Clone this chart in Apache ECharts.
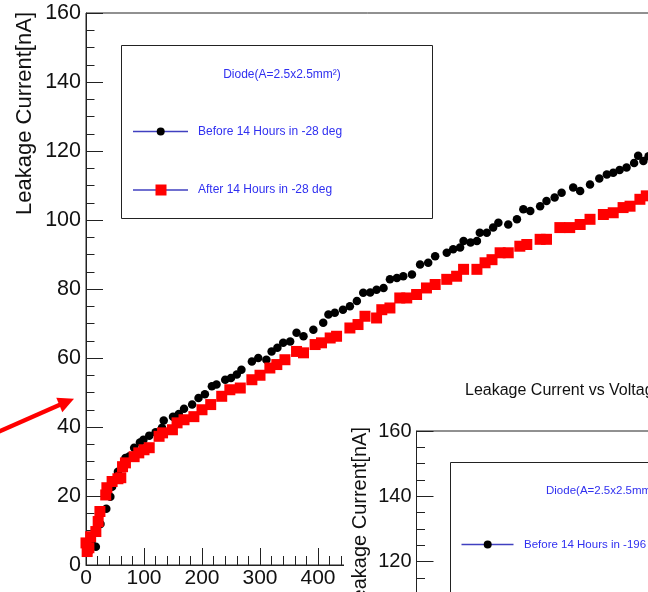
<!DOCTYPE html>
<html>
<head>
<meta charset="utf-8">
<script src="https://cdn.jsdelivr.net/npm/echarts@6/dist/echarts.min.js"></script>
<style>html,body{margin:0;padding:0;background:#fff}#c{width:648px;height:592px}</style>
</head>
<body>
<div id="c"></div>
<script>
// Before 14 Hours in -28 deg (black circles)
const beforeV = [5,10,17,25,35,42,45,55,68,75,83,93,99,109,120,131,134,150,160,169,183,194,205,217,225,240,250,260,268,286,297,311,320,330,340,352,363,375,392,409,418,429,443,455,467,478,490,501,513,524,536,547,562,576,590,602,622,633,645,651,663,674,679,691,702,711,728,743,754,766,783,794,808,820,840,852,869,885,898,909,920,932,945,952,961,970];
const beforeI = [4,6,5.3,11.9,16.3,19.8,22.7,27,31,31.5,34,35.5,36.3,37.5,38.5,39.8,41.9,43,43.8,45.3,46.5,48.4,49.5,51.8,52.3,53.7,54.2,55.2,56.6,59,60,59.5,61.9,63,64.4,64.8,67.3,66.3,68.2,70.2,72.6,73.1,74,75,76.5,78.9,79,79.8,80.3,82.8,83.2,83.7,84.2,87.1,87.6,89.5,90.5,91.5,92,93.9,93.5,93.9,96.3,96.3,97.8,99.2,98.7,100.2,103.1,102.6,104,105.5,106.5,107.9,109.4,108.4,110.3,112,113.2,113.7,114.5,115.2,116.5,118.6,117.1,118.5];
// After 14 Hours in -28 deg (red squares)
const afterV = [0,2,5,8,17,21,24,34,36,45,55,60,63,68,83,91,100,109,126,132,149,157,169,186,200,215,234,248,266,286,300,317,329,343,363,375,395,406,421,432,455,469,481,501,510,524,541,553,570,587,602,622,639,651,674,688,700,714,728,748,760,783,794,817,834,852,869,892,909,926,938,955,966];
const afterI = [6.4,3.9,5,8.2,9.7,12.6,15.5,20.3,22.4,24.2,25,25.3,28.5,29.6,31.4,32.5,33.4,34,37.3,38.3,39.2,41.2,42.1,43,45,46.5,48.9,50.8,51.3,53.7,55,57.1,58.1,59.5,61.9,61.5,63.9,64.4,65.8,66.3,68.7,69.7,72.1,71.6,74,74.5,77.4,77.4,78.4,80.3,81.3,82.8,83.7,85.7,85.7,87.6,88.5,90.5,90.5,92.4,92.9,94.4,94.4,97.8,97.8,98.7,100.2,101.6,102.1,103.6,104,106,107];

const yTitle = 'Leakage Current[nA]';
const insetTitle = 'Leakage Current vs Voltage';
const legendTitle = 'Diode(A=2.5x2.5mm\u00B2)';
const beforeName = 'Before 14 Hours in -28 deg';
const afterName = 'After 14 Hours in -28 deg';
const insetBeforeName = 'Before 14 Hours in -196 deg';

const FF = '"Liberation Sans", Arial, sans-serif';
const AX = '#222';
const BLUE = '#3030f0';
const LEGLINE = '#4040c0';

const chart = echarts.init(document.getElementById('c'), null, {renderer: 'canvas'});

const axisCommon = {
  axisLine: {lineStyle: {color: AX, width: 1}},
  axisTick: {inside: true, length: 17, lineStyle: {color: AX}},
  splitLine: {show: false}
};

const option = {
  animation: false,
  backgroundColor: '#fff',
  grid: [
    {left: 86, top: 13, width: 580, height: 552, show: true, borderColor: AX, borderWidth: 1, backgroundColor: 'transparent', z: 0, containLabel: false, outerBoundsMode: 'none'},
    {left: 416.5, top: 431, width: 400, height: 196, show: true, borderColor: AX, borderWidth: 1, backgroundColor: 'transparent', z: 10, containLabel: false, outerBoundsMode: 'none'}
  ],
  xAxis: [
    Object.assign({}, axisCommon, {
      gridIndex: 0, type: 'value', min: 0, max: 1000, interval: 100,
      minorTick: {show: true, splitNumber: 5, length: 9, lineStyle: {color: AX}},
      axisLabel: {fontSize: 21, color: '#111', margin: 3, fontFamily: FF}
    }),
    {gridIndex: 1, type: 'value', min: 0, max: 1000, show: false}
  ],
  yAxis: [
    Object.assign({}, axisCommon, {
      gridIndex: 0, type: 'value', min: 0, max: 160, interval: 20,
      minorTick: {show: true, splitNumber: 4, length: 8.5, lineStyle: {color: AX}},
      axisLabel: {fontSize: 21.5, color: '#111', margin: 5, fontFamily: FF}
    }),
    Object.assign({}, axisCommon, {
      gridIndex: 1, type: 'value', min: 100, max: 160, interval: 20, z: 10,
      minorTick: {show: true, splitNumber: 4, length: 8.5, lineStyle: {color: AX}},
      axisLabel: {fontSize: 20, color: '#111', margin: 5, fontFamily: FF}
    })
  ],
  series: [
    {
      name: beforeName, type: 'scatter', xAxisIndex: 0, yAxisIndex: 0, clip: false,
      symbol: 'circle', symbolSize: 8.5, itemStyle: {color: '#000', opacity: 1},
      data: beforeV.map((v, i) => [v, beforeI[i]])
    },
    {
      name: afterName, type: 'scatter', xAxisIndex: 0, yAxisIndex: 0, clip: false,
      symbol: 'rect', symbolSize: 11, itemStyle: {color: '#ff0000', opacity: 1},
      data: afterV.map((v, i) => [v, afterI[i]])
    }
  ],
  graphic: [
    // main y-axis title
    {type: 'text', x: 25, y: 12, rotation: Math.PI / 2, z: 3,
     style: {text: yTitle, font: '22px ' + FF, fill: '#111', textAlign: 'right', textVerticalAlign: 'middle'}},
    // main legend box
    {type: 'rect', shape: {x: 121.5, y: 45.5, width: 311, height: 173}, style: {fill: '#fff', stroke: AX, lineWidth: 1}, z: 3},
    {type: 'text', x: 282, y: 75, z: 4,
     style: {text: legendTitle, font: '12px ' + FF, fill: BLUE, textAlign: 'center', textVerticalAlign: 'middle'}},
    {type: 'line', shape: {x1: 133, y1: 131.5, x2: 188, y2: 131.5}, style: {stroke: LEGLINE, lineWidth: 1.5}, z: 4},
    {type: 'circle', shape: {cx: 160.7, cy: 131.5, r: 4}, style: {fill: '#000'}, z: 5},
    {type: 'text', x: 198, y: 131.5, z: 4,
     style: {text: beforeName, font: '12px ' + FF, fill: BLUE, textAlign: 'left', textVerticalAlign: 'middle'}},
    {type: 'line', shape: {x1: 133, y1: 190, x2: 188, y2: 190}, style: {stroke: LEGLINE, lineWidth: 1.5}, z: 4},
    {type: 'rect', shape: {x: 155.5, y: 184.5, width: 11, height: 11}, style: {fill: '#ff0000'}, z: 5},
    {type: 'text', x: 198, y: 190, z: 4,
     style: {text: afterName, font: '12px ' + FF, fill: BLUE, textAlign: 'left', textVerticalAlign: 'middle'}},
    // red arrow
    {type: 'line', shape: {x1: -2, y1: 432, x2: 61, y2: 404.2}, style: {stroke: '#ff0000', lineWidth: 4.5}, z: 6},
    {type: 'polygon', shape: {points: [[74, 398.8], [62.3, 412.2], [56.3, 397.8]]}, style: {fill: '#ff0000'}, z: 6},
    // inset (second chart) white background
    {type: 'rect', shape: {x: 344, y: 370, width: 320, height: 240}, style: {fill: '#fff'}, z: 5},
    {type: 'text', x: 465, y: 390.5, z: 11,
     style: {text: insetTitle, font: '16px ' + FF, fill: '#111', textAlign: 'left', textVerticalAlign: 'middle'}},
    {type: 'text', x: 360, y: 427, rotation: Math.PI / 2, z: 11,
     style: {text: yTitle, font: '20px ' + FF, fill: '#111', textAlign: 'right', textVerticalAlign: 'middle'}},
    {type: 'rect', shape: {x: 450.5, y: 462.5, width: 300, height: 200}, style: {fill: '#fff', stroke: AX, lineWidth: 1}, z: 11},
    {type: 'text', x: 546, y: 491, z: 12,
     style: {text: legendTitle, font: '11.5px ' + FF, fill: BLUE, textAlign: 'left', textVerticalAlign: 'middle'}},
    {type: 'line', shape: {x1: 461.5, y1: 544.5, x2: 513.5, y2: 544.5}, style: {stroke: LEGLINE, lineWidth: 1.5}, z: 12},
    {type: 'circle', shape: {cx: 487.7, cy: 544.5, r: 4}, style: {fill: '#000'}, z: 13},
    {type: 'text', x: 524, y: 544.5, z: 12,
     style: {text: insetBeforeName, font: '11.5px ' + FF, fill: BLUE, textAlign: 'left', textVerticalAlign: 'middle'}}
  ]
};
chart.setOption(option);
</script>
</body>
</html>
